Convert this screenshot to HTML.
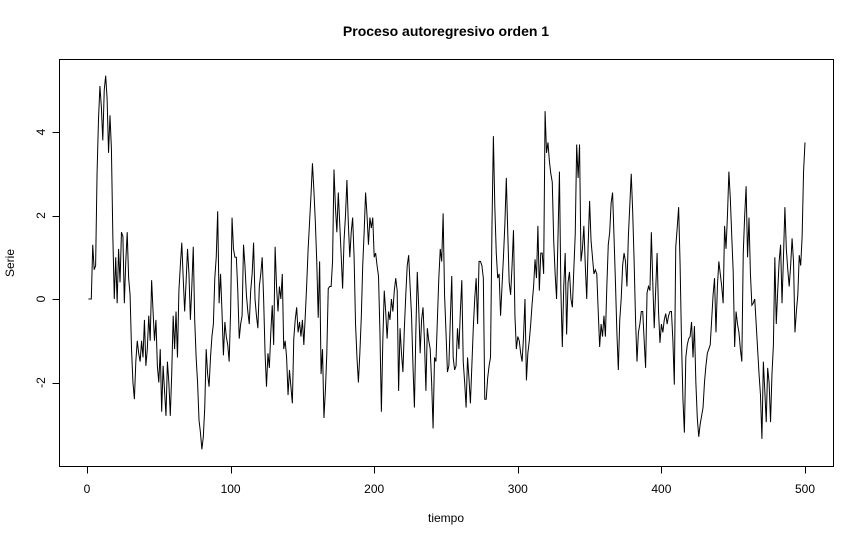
<!DOCTYPE html>
<html><head><meta charset="utf-8"><style>
body{margin:0;background:#fff}
svg text{font-family:"Liberation Sans",Arial,sans-serif;fill:#000}
</style></head><body>
<svg id="chart" width="864" height="540" xmlns="http://www.w3.org/2000/svg">
<rect width="864" height="540" fill="#fff"/>
<text x="446" y="36" text-anchor="middle" font-size="14" font-weight="bold">Proceso autoregresivo orden 1</text>
<rect x="59.5" y="59.5" width="774" height="407" fill="none" stroke="#000" stroke-width="1"/>
<text x="446" y="522" text-anchor="middle" font-size="12">tiempo</text>
<text transform="translate(14,263) rotate(-90)" text-anchor="middle" font-size="12">Serie</text>
<g id="xaxis"></g>
<g id="yaxis"></g>
<path id="series" fill="none" stroke="#000" stroke-width="1"/>
</svg>
<script>
const xTicks=[0,100,200,300,400,500];
const yTicks=[-2,0,2,4];
const serie=[
0,0,0.0,1.3,0.7,0.8,3.0,4.3,5.1,4.6,
3.8,5.0,5.35,4.8,3.5,4.4,3.6,1.5,0.0,1.0,
-0.1,1.2,0.4,1.6,1.5,-0.1,0.9,1.6,0.5,0.1,
-1.2,-2.0,-2.4,-1.5,-1.0,-1.3,-1.5,-1.0,-1.4,-0.5,
-1.6,-1.2,-0.4,-1.0,0.45,-0.3,-1.0,-0.5,-1.6,-2.0,
-1.2,-2.7,-1.6,-2.2,-2.8,-1.5,-2.0,-2.8,-1.8,-0.4,
-1.2,-0.3,-1.4,0.2,0.8,1.35,0.5,-0.3,0.4,1.2,
0.6,-0.5,0.3,1.25,-0.5,-1.4,-2.0,-2.9,-3.2,-3.6,
-3.3,-2.6,-1.2,-1.8,-2.1,-1.4,-0.9,-0.6,0.5,1.0,
2.1,-0.1,0.6,-0.3,-1.35,-0.55,-0.9,-1.1,-1.5,-0.3,
1.95,1.2,1.0,1.0,0.2,-0.95,-0.6,-0.4,1.3,0.8,
0.1,-0.3,-0.6,0.2,0.6,1.35,0.0,-0.4,-0.7,0.3,
0.6,1.0,0.0,-1.3,-2.1,-1.3,-1.65,-0.8,-0.15,-1.1,
1.25,0.3,-0.3,0.3,0.0,0.6,-1.2,-1.0,-1.4,-2.3,
-1.7,-2.1,-2.5,-0.95,-0.5,-0.2,-0.8,-0.55,-0.9,-0.5,
-1.1,-0.4,0.35,1.2,1.85,2.5,3.25,2.6,1.85,0.9,
-0.45,0.9,-1.8,-1.2,-2.85,-2.2,-1.3,0.25,0.3,0.3,
0.9,3.1,2.2,1.6,2.55,1.8,1.05,0.25,1.4,2.0,
2.85,1.8,1.0,1.6,1.95,1.0,-0.6,-1.4,-2.0,-1.3,
-0.45,0.8,1.6,2.55,2.0,1.3,1.95,1.7,1.95,1.0,
1.1,0.8,0.55,-0.8,-2.7,-1.0,0.2,-0.3,-0.95,-0.3,
-0.5,0.0,-0.3,0.2,0.5,0.2,-2.2,-0.7,-1.3,-1.75,
-0.7,0.1,0.8,1.05,0.3,-0.4,-1.6,-2.6,-0.8,0.65,
-0.2,-1.3,-0.5,-0.2,-1.0,-2.2,-0.7,-1.0,-1.2,-2.0,
-3.1,-1.4,-1.5,-0.5,0.5,1.2,0.9,2.05,0.1,-0.8,
-1.75,-1.6,-0.5,0.55,-1.4,-1.7,-1.6,-0.7,-1.2,-0.3,
0.45,-1.5,-2.0,-2.6,-1.4,-1.9,-2.5,-1.6,-0.7,0.0,
0.5,-0.6,0.9,0.9,0.8,0.5,-2.4,-2.4,-1.9,-1.6,
-1.4,1.7,3.9,2.2,1.1,0.5,0.6,-0.4,0.3,1.0,
1.8,2.9,1.6,0.4,0.1,0.8,1.65,-0.4,-1.2,-0.9,
-1.0,-1.3,-1.5,-0.9,0.0,-1.95,-1.3,-1.0,-0.6,-0.1,
0.3,0.95,0.5,1.75,0.2,1.1,1.1,0.6,4.5,3.5,
3.75,3.3,3.0,2.8,1.4,0.6,0.0,1.5,3.05,0.2,
-1.15,0.3,1.1,-0.85,0.4,0.65,0.0,-0.2,0.7,1.55,
3.7,2.9,3.7,0.9,1.2,1.75,0.8,0.0,1.3,2.35,
1.4,1.0,0.6,0.7,0.6,-0.3,-1.15,-0.6,-0.9,-0.4,
-0.9,0.3,1.3,1.6,2.3,2.55,1.5,0.4,-0.8,-1.7,
-0.5,0.0,0.8,1.1,0.9,0.3,1.5,2.25,3.0,2.1,
0.9,-0.5,-1.5,-0.8,-0.6,-0.3,-0.3,-1.0,-1.65,0.15,
0.3,0.2,1.6,0.4,-0.7,0.2,1.1,-0.3,-1.05,-0.6,
-0.8,-0.5,-0.35,-0.6,-0.4,-0.3,-0.3,-1.0,-2.05,1.25,
1.7,2.2,0.85,-1.0,-2.4,-3.2,-1.4,-1.1,-0.95,-0.9,
-0.55,-1.4,-0.65,-2.0,-2.85,-3.3,-3.0,-2.8,-2.6,-2.0,
-1.6,-1.3,-1.2,-1.1,-0.5,0.1,0.5,-0.8,0.3,0.9,
0.6,0.3,-0.1,1.75,1.2,2.0,3.05,2.4,1.5,0.65,
-1.15,-0.3,-0.6,-0.8,-1.2,-1.5,1.1,2.0,2.7,1.0,
1.95,0.6,-0.15,-0.1,0.0,-0.6,-1.2,-1.8,-2.3,-3.35,
-1.5,-2.2,-2.95,-1.65,-2.0,-2.95,-1.8,-1.1,1.0,-0.6,
0.2,0.9,1.3,-0.1,1.0,2.2,1.2,0.7,0.3,0.8,
1.45,0.9,-0.8,-0.3,0.1,1.05,0.8,1.5,3.05,3.75];

const NS='http://www.w3.org/2000/svg';
function sx(t){return 87+(t-0)*(805-87)/500;}
function sy(v){return 299-v*41.75;}

const xa=document.getElementById('xaxis');
const xl=document.createElementNS(NS,'line');


xl.setAttribute('x1',sx(xTicks[0]));xl.setAttribute('x2',sx(xTicks[xTicks.length-1]));
xl.setAttribute('y1',466.5);xl.setAttribute('y2',466.5);xl.setAttribute('stroke','#000');
xa.appendChild(xl);
xTicks.forEach(t=>{
  const l=document.createElementNS(NS,'line');
  
  
  l.setAttribute('x1',Math.round(sx(t))+0.5);l.setAttribute('x2',Math.round(sx(t))+0.5);
  l.setAttribute('y1',466.5);l.setAttribute('y2',473.5);l.setAttribute('stroke','#000');
  xa.appendChild(l);
  const tx=document.createElementNS(NS,'text');
  
  
  tx.setAttribute('x',sx(t));tx.setAttribute('y',493);
  tx.setAttribute('text-anchor','middle');tx.setAttribute('font-size','12');
  tx.textContent=t;xa.appendChild(tx);
});
const ya=document.getElementById('yaxis');
const yl=document.createElementNS(NS,'line');


yl.setAttribute('x1',59.5);yl.setAttribute('x2',59.5);
yl.setAttribute('y1',sy(yTicks[0]));yl.setAttribute('y2',sy(yTicks[yTicks.length-1]));
yl.setAttribute('stroke','#000');ya.appendChild(yl);
yTicks.forEach(v=>{
  const l=document.createElementNS(NS,'line');
  
  
  l.setAttribute('x1',52.5);l.setAttribute('x2',59.5);
  l.setAttribute('y1',Math.round(sy(v))+0.5);l.setAttribute('y2',Math.round(sy(v))+0.5);
  l.setAttribute('stroke','#000');ya.appendChild(l);
  const tx=document.createElementNS(NS,'text');
  
  
  tx.setAttribute('transform','translate(45,'+sy(v)+') rotate(-90)');
  tx.setAttribute('text-anchor','middle');tx.setAttribute('font-size','12');
  tx.textContent=v;ya.appendChild(tx);
});
let d='';
serie.forEach((v,i)=>{d+=(i?'L':'M')+sx(i+1).toFixed(2)+' '+sy(v).toFixed(2);});
document.getElementById('series').setAttribute('d',d);
</script>
</body></html>
